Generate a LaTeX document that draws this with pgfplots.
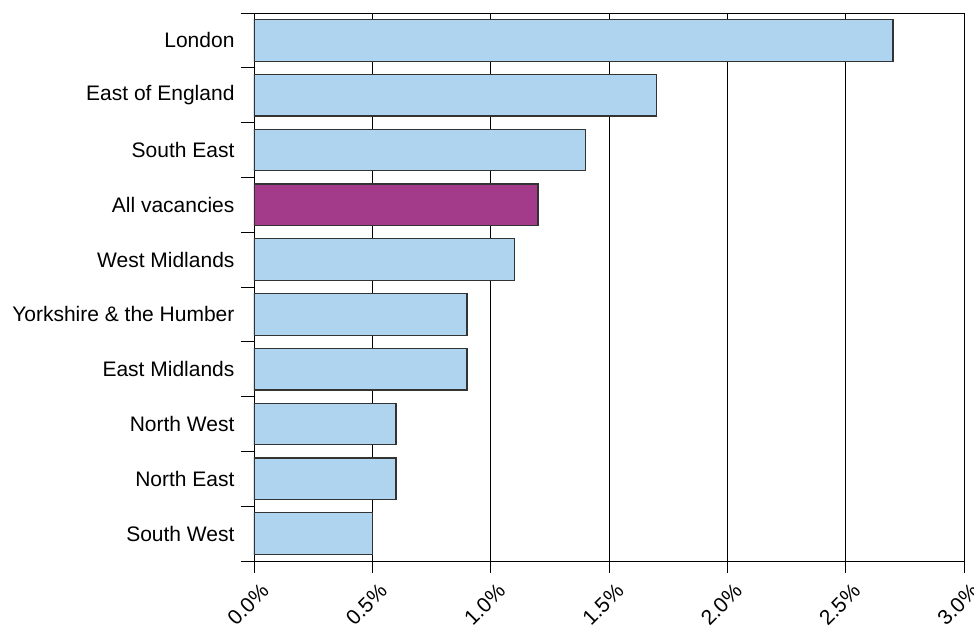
\documentclass[border=0pt]{standalone}
\usepackage{fontspec}
\setmainfont{Liberation Sans}
\usepackage{pgfplots}
\pgfplotsset{compat=1.18}
\definecolor{barblue}{RGB}{174,212,240}
\definecolor{barpurple}{RGB}{164,58,138}
\begin{document}
\begin{tikzpicture}
\path[use as bounding box] (-254pt,-64pt) rectangle (720pt,561pt);
\begin{axis}[
  at={(0,0)}, anchor=south west,
  scale only axis, width=710pt, height=548pt,
  xmin=0, xmax=3, ymin=-0.5, ymax=9.5,
  xtick={0,0.5,1,1.5,2,2.5,3},
  xticklabels={0.0\%,0.5\%,1.0\%,1.5\%,2.0\%,2.5\%,3.0\%},
  ytick={0,1,2,3,4,5,6,7,8,9},
  yticklabels={South West,North East,North West,East Midlands,Yorkshire \& the Humber,West Midlands,All vacancies,South East,East of England,London},
  minor ytick={-0.5,0.5,1.5,2.5,3.5,4.5,5.5,6.5,7.5,8.5,9.5},
  tick align=outside,
  xtick pos=bottom, ytick pos=left,
  major tick length=12pt,
  minor tick length=13pt,
  major x tick style={line width=0.9pt, black},
  major y tick style={draw=none},
  minor y tick style={line width=0.9pt, black},
  xmajorgrids, grid style={black, line width=0.9pt},
  axis line style={black, line width=0.9pt},
  tick label style={font=\fontsize{21}{24}\selectfont},
  xticklabel style={rotate=45, anchor=north east, xshift=1pt, yshift=-7pt},
  yticklabel style={xshift=-4pt},
  bar width=0.76,
]
\addplot[xbar, bar shift=0pt, fill=barblue, draw=black!80, line width=1.1pt] coordinates {
 (0.5,0) (0.6,1) (0.6,2) (0.9,3) (0.9,4) (1.1,5) (1.4,7) (1.7,8) (2.7,9)
};
\addplot[xbar, bar shift=0pt, fill=barpurple, draw=black!80, line width=1.1pt] coordinates {
 (1.2,6)
};
\end{axis}
\end{tikzpicture}
\end{document}
